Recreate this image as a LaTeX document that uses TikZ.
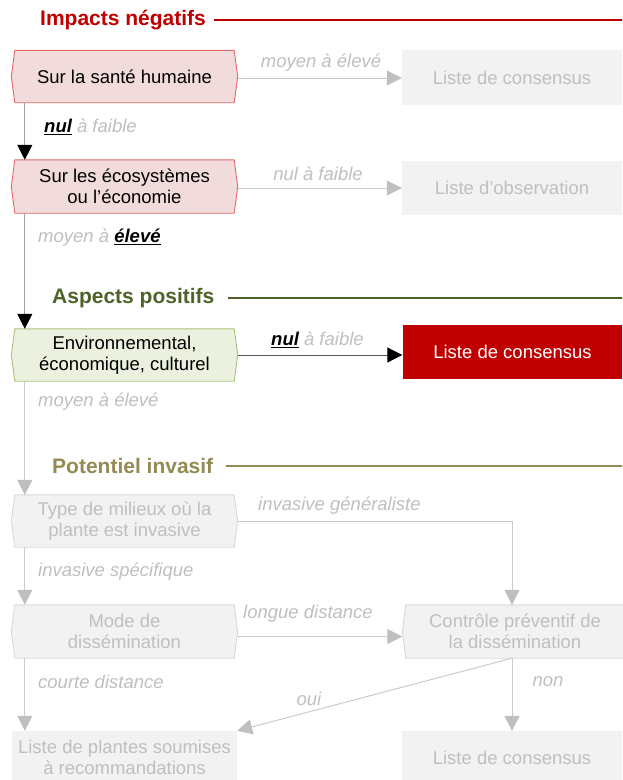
\documentclass[tikz,border=0pt]{standalone}
\usepackage{fontspec}
\setmainfont{Liberation Sans}
\usetikzlibrary{arrows.meta,backgrounds,calc}
\definecolor{tred}{HTML}{C00000}
\definecolor{pinkfill}{HTML}{F2DCDB}
\definecolor{pinkline}{HTML}{E06A6C}
\definecolor{tgreen}{HTML}{4F6228}
\definecolor{greenfill}{HTML}{EBF1DE}
\definecolor{greenline}{HTML}{A9C27E}
\definecolor{tolive}{HTML}{948A54}
\definecolor{boxgray}{HTML}{F2F2F2}
\definecolor{txtgray}{HTML}{BFBFBF}
\definecolor{linegray}{HTML}{CACACA}
\definecolor{framegray}{HTML}{D9D9D9}
\definecolor{midgray}{HTML}{A0A0A0}
\definecolor{darkline}{HTML}{595959}
\newcommand\hexframe[2]{\path[#2] (#1.north west) -- (#1.north east) -- ([xshift=3.5pt]#1.east) -- (#1.south east) -- (#1.south west) -- ([xshift=-3.5pt]#1.west) -- cycle;}
\begin{document}
\begin{tikzpicture}[x=1pt,y=-1pt,
  nodefont/.style={font=\fontsize{18.5}{21.5}\selectfont},
  hexbox/.style={nodefont, minimum width=219pt, minimum height=52pt, inner sep=0, align=center},
  listbox/.style={nodefont, minimum width=220pt, minimum height=54pt, inner sep=0, align=center, fill=boxgray, text=txtgray},
  lbl/.style={font=\fontsize{18.5}{21.5}\selectfont\itshape, text=txtgray, inner sep=0},
  ttl/.style={font=\fontsize{21}{24}\selectfont\bfseries, inner sep=0, anchor=west},
  pinkhex/.style={fill=pinkfill, draw=pinkline, line width=0.9pt},
  greenhex/.style={fill=greenfill, draw=greenline, line width=0.9pt},
  grayhex/.style={fill=boxgray, draw=framegray, line width=0.9pt},
  grayarrow/.style={draw=linegray, line width=1pt, -{Triangle[length=15pt,width=15pt,color=txtgray]}},
  blackarrow/.style={draw=midgray, line width=1pt, -{Triangle[length=15pt,width=15pt,color=black]}},
  darkarrow/.style={draw=darkline, line width=1pt, -{Triangle[length=15pt,width=15pt,color=black]}}
]
\useasboundingbox (0,0) rectangle (622,780);
\clip (0,0) rectangle (622,780);

% titles
\node[ttl, text=tred] (t1) at (40,20) {Impacts négatifs};
\draw[tred, line width=2pt] ([xshift=8pt]t1.east) -- ([xshift=420pt]t1.east);
\node[ttl, text=tgreen] (t2) at (52,298) {Aspects positifs};
\draw[tgreen, line width=2pt] ([xshift=13pt]t2.east) -- ([xshift=420pt]t2.east);
\node[ttl, text=tolive] (t3) at (52,466) {Potentiel invasif};
\draw[tolive, line width=2pt] ([xshift=13pt]t3.east) -- ([xshift=420pt]t3.east);

% left hexagon nodes
\node[hexbox] (n1) at (124.5,76.5) {Sur la santé humaine};
\node[hexbox, minimum height=53pt] (n2) at (124.5,186.5) {Sur les écosystèmes\\ou l’économie};
\node[hexbox] (n3) at (124.5,355) {Environnemental,\\économique, culturel};
\node[hexbox, text=txtgray] (n4) at (124.5,521) {Type de milieux où la\\plante est invasive};
\node[hexbox, text=txtgray, minimum height=53pt] (n5) at (124.5,631.5) {Mode de\\dissémination};
\node[hexbox, text=txtgray, minimum width=218pt, minimum height=53pt] (n6) at (515,631.5) {Contrôle préventif de\\la dissémination};

\begin{scope}[on background layer]
\hexframe{n1}{pinkhex}
\hexframe{n2}{pinkhex}
\hexframe{n3}{greenhex}
\hexframe{n4}{grayhex}
\hexframe{n5}{grayhex}
\hexframe{n6}{grayhex}
\end{scope}

% list boxes
\node[listbox, minimum height=55pt] (b1) at (512,77.5) {Liste de consensus};
\node[listbox] (b2) at (512,188) {Liste d’observation};
\node[listbox, fill=tred, text=white] (r1) at (512.5,352) {Liste de consensus};
\node[listbox, minimum width=225pt, minimum height=53pt] (b3) at (124.5,757.5) {Liste de plantes soumises\\à recommandations};
\node[listbox, minimum height=53pt] (b4) at (512,757.5) {Liste de consensus};

% connectors
\draw[grayarrow] ([xshift=3.5pt,yshift=-1.5pt]n1.east) -- ([yshift=-1.5pt]n1.east -| b1.west);
\node[lbl] (l1) at (321,63) {moyen à élevé};

\draw[blackarrow] ([xshift=10pt]n1.south west) -- ([xshift=10pt]n2.north west);
\node[lbl, anchor=west] (l2) at (44,127) {\textcolor{black}{\textbf{\underline{nul}}} à faible};

\draw[grayarrow] ([xshift=3.5pt,yshift=-1.5pt]n2.east) -- ([yshift=-1.5pt]n2.east -| b2.west);
\node[lbl] (l3) at (318,174) {nul à faible};

\draw[blackarrow] ([xshift=10pt]n2.south west) -- ([xshift=10pt]n3.north west);
\node[lbl, anchor=west] (l4) at (38,238) {moyen à \textcolor{black}{\textbf{\underline{élevé}}}};

\draw[darkarrow] ([xshift=3.5pt]n3.east) -- (n3.east -| r1.west);
\node[lbl, anchor=west] (l5) at (271,340) {\textcolor{black}{\textbf{\underline{nul}}} à faible};

\draw[grayarrow] ([xshift=10pt]n3.south west) -- ([xshift=10pt]n4.north west);
\node[lbl, anchor=west] (l6) at (38,402) {moyen à élevé};

\draw[grayarrow] ([xshift=3.5pt]n4.east) -| ([xshift=-3pt]n6.north);
\node[lbl, anchor=west] (l7) at (258,506) {invasive généraliste};

\draw[grayarrow] ([xshift=10pt]n4.south west) -- ([xshift=10pt]n5.north west);
\node[lbl, anchor=west] (l8) at (38,572) {invasive spécifique};

\draw[grayarrow] ([xshift=3.5pt,yshift=-5pt]n5.east) -- ([xshift=-3.5pt,yshift=-5pt]n6.west);
\node[lbl, anchor=west] (l9) at (243,614) {longue distance};

\coordinate (n5out) at ([xshift=10pt]n5.south west);
\draw[grayarrow] (n5out) -- (n5out |- b3.north);
\node[lbl, anchor=west] (l10) at (38,682) {courte distance};

\coordinate (n6out) at (n6.south -| b4.north);
\draw[grayarrow] (n6out) -- (b4.north);
\node[lbl] (l11) at (548,682) {non};

\draw[grayarrow] (n6out) -- (b3.north east);
\node[lbl] (l12) at (309,699) {oui};
\end{tikzpicture}
\end{document}
